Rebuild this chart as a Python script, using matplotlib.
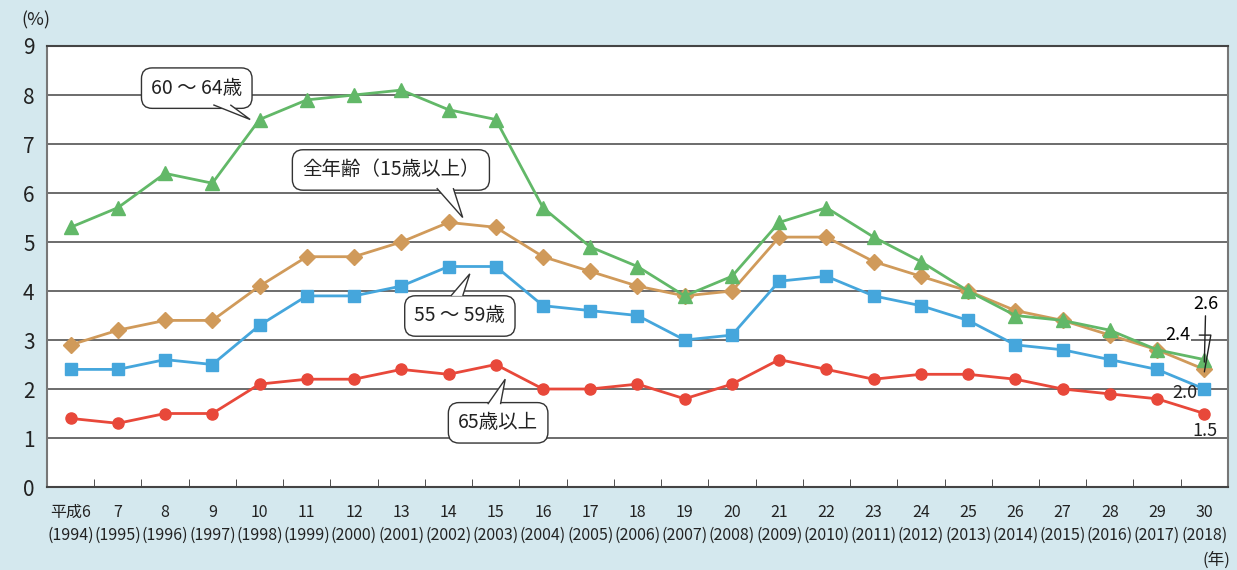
import numpy as np
import matplotlib
matplotlib.use('Agg')
import matplotlib.pyplot as plt
from matplotlib.patches import Polygon

plt.rcParams['font.family'] = ['Noto Sans CJK JP', 'DejaVu Sans']

# 和暦 / 西暦
wareki = ['平成6'] + [str(n) for n in range(7, 31)]
years = list(range(1994, 2019))
xlabels = [f'{w}\n({y})' for w, y in zip(wareki, years)]

# 完全失業率 (%)
age_60_64 = [5.3, 5.7, 6.4, 6.2, 7.5, 7.9, 8.0, 8.1, 7.7, 7.5, 5.7, 4.9, 4.5,
             3.9, 4.3, 5.4, 5.7, 5.1, 4.6, 4.0, 3.5, 3.4, 3.2, 2.8, 2.6]
all_ages = [2.9, 3.2, 3.4, 3.4, 4.1, 4.7, 4.7, 5.0, 5.4, 5.3, 4.7, 4.4, 4.1,
            3.9, 4.0, 5.1, 5.1, 4.6, 4.3, 4.0, 3.6, 3.4, 3.1, 2.8, 2.4]
age_55_59 = [2.4, 2.4, 2.6, 2.5, 3.3, 3.9, 3.9, 4.1, 4.5, 4.5, 3.7, 3.6, 3.5,
             3.0, 3.1, 4.2, 4.3, 3.9, 3.7, 3.4, 2.9, 2.8, 2.6, 2.4, 2.0]
age_65 = [1.4, 1.3, 1.5, 1.5, 2.1, 2.2, 2.2, 2.4, 2.3, 2.5, 2.0, 2.0, 2.1,
          1.8, 2.1, 2.6, 2.4, 2.2, 2.3, 2.3, 2.2, 2.0, 1.9, 1.8, 1.5]

BG = '#d4e8ee'
x = np.arange(len(years))

fig = plt.figure(figsize=(12.37, 5.70), dpi=100, facecolor=BG)
ax = fig.add_axes([0.038, 0.1456, 0.9547, 0.7737])
ax.set_facecolor('white')

for y in range(1, 9):
    ax.axhline(y, color='#444444', lw=1.1, zorder=1)

ax.plot(x, age_65, color='#e8483a', marker='o', ms=8, lw=2, zorder=3)
ax.plot(x, age_55_59, color='#45a6dc', marker='s', ms=8.5, lw=2, zorder=3)
ax.plot(x, all_ages, color='#d09a5a', marker='D', ms=8.5, lw=2, zorder=4)
ax.plot(x, age_60_64, color='#62b868', marker='^', ms=9.5, lw=2, zorder=5)

ax.set_xlim(-0.5, 24.5)
ax.set_ylim(0, 9)
ax.set_yticks(range(10))
ax.tick_params(axis='y', length=0, labelsize=15, pad=9, colors='#222222')
ax.set_xticks(x)
ax.set_xticklabels(xlabels, fontsize=11.5, linespacing=1.45)
ax.tick_params(axis='x', which='major', length=0, pad=12, colors='#222222')
ax.set_xticks(np.arange(0.5, 24, 1), minor=True)
ax.tick_params(axis='x', which='minor', direction='in', length=6, color='#333333')

for s in ['left', 'right']:
    ax.spines[s].set_color('#777777')
    ax.spines[s].set_linewidth(1.5)
for s in ['top', 'bottom']:
    ax.spines[s].set_color('#444444')
    ax.spines[s].set_linewidth(1.5)

fig.text(0.029, 0.965, '(%)', fontsize=13, ha='center', va='center', color='#222222')
fig.text(0.983, 0.002, '(年)', fontsize=12, ha='center', va='bottom', color='#222222')


def callout(text, cx, cy, base, tip):
    ax.text(cx, cy, text, fontsize=14, ha='center', va='center', zorder=8,
            color='#222222',
            bbox=dict(boxstyle='round,pad=0.5,rounding_size=0.55',
                      fc='white', ec='#333333', lw=1))
    (bx1, by), (bx2, _) = base
    tri = Polygon([(bx1, by), tip, (bx2, by)], closed=False, fc='white',
                  ec='#333333', lw=1, zorder=9)
    ax.add_patch(tri)


callout('60 ～ 64歳', 2.67, 8.14, [(3.02, 7.8), (3.38, 7.8)], (3.8, 7.5))
callout('全年齢（15歳以上）', 6.78, 6.47, [(7.75, 6.1), (8.1, 6.1)], (8.3, 5.5))
callout('55 ～ 59歳', 8.24, 3.49, [(8.05, 3.9), (8.3, 3.9)], (8.45, 4.35))
callout('65歳以上', 9.05, 1.31, [(8.83, 1.69), (9.1, 1.69)], (9.2, 2.2))

# 平成30年の値
ax.annotate(f'{age_60_64[-1]:.1f}', xy=(24, age_60_64[-1] - 0.05), xytext=(24.03, 3.55),
            fontsize=13, ha='center', va='bottom', zorder=10,
            arrowprops=dict(arrowstyle='-', color='#222222', lw=1,
                            shrinkA=0, shrinkB=0))
ax.annotate(f'{all_ages[-1]:.1f}', xy=(24, all_ages[-1] - 0.05), xytext=(23.45, 3.1),
            fontsize=13, ha='center', va='center', zorder=10,
            bbox=dict(fc='white', ec='none', pad=0),
            arrowprops=dict(arrowstyle='-', color='#222222', lw=1,
                            shrinkA=6, shrinkB=0,
                            connectionstyle='angle,angleA=0,angleB=80,rad=0'))
ax.text(23.58, 1.92, f'{age_55_59[-1]:.1f}', fontsize=13, ha='center', va='center',
        zorder=10, color='#222222')
ax.text(24.02, 1.15, f'{age_65[-1]:.1f}', fontsize=13, ha='center', va='center',
        zorder=10, color='#222222')

fig.savefig('out.png', dpi=100, facecolor=BG)
